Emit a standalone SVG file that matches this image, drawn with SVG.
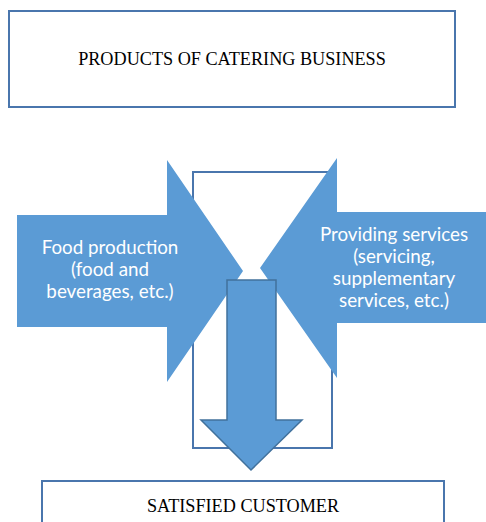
<svg xmlns="http://www.w3.org/2000/svg" width="486" height="522" viewBox="0 0 486 522">
<style>
.box{fill:#fff;stroke:#4a76ad;stroke-width:2}
.arr{fill:#5b9bd5}
.dn{fill:#5b9bd5;stroke:#41719c;stroke-width:1.5}
.t{font-family:"Liberation Serif","Times New Roman",serif;font-size:18.2px;fill:#000;text-anchor:middle}
.w{font-family:Lato,"Open Sans",sans-serif;font-size:18.8px;fill:#fff;text-anchor:middle}
</style>
<g id="top-box">
<rect class="box" x="9" y="11" width="446" height="96"/>
<text class="t" x="232" y="65">PRODUCTS OF CATERING BUSINESS</text>
</g>
<g id="frame">
<rect class="box" x="193" y="172" width="139" height="276"/>
</g>
<g id="food-production">
<polygon class="arr" points="17,215 167,215 167,160 243,271 167,382 167,327 17,327"/>
<text class="w" x="110" y="254">Food production</text>
<text class="w" x="110" y="276">(food and</text>
<text class="w" x="110" y="298">beverages, etc.)</text>
</g>
<g id="providing-services">
<polygon class="arr" points="486,212 337,212 337,158 260,268 337,378 337,323 486,323"/>
<text class="w" x="394" y="241">Providing services</text>
<text class="w" x="394" y="263">(servicing,</text>
<text class="w" x="394" y="285">supplementary</text>
<text class="w" x="394" y="307">services, etc.)</text>
</g>
<g id="connectors">
<polygon class="dn" points="227,280 276,280 276,420 302,420 251,470 201,420 227,420"/>
</g>
<g id="satisfied-customer">
<rect class="box" x="42" y="481" width="402" height="50"/>
<text class="t" x="243" y="512">SATISFIED CUSTOMER</text>
</g>
</svg>
